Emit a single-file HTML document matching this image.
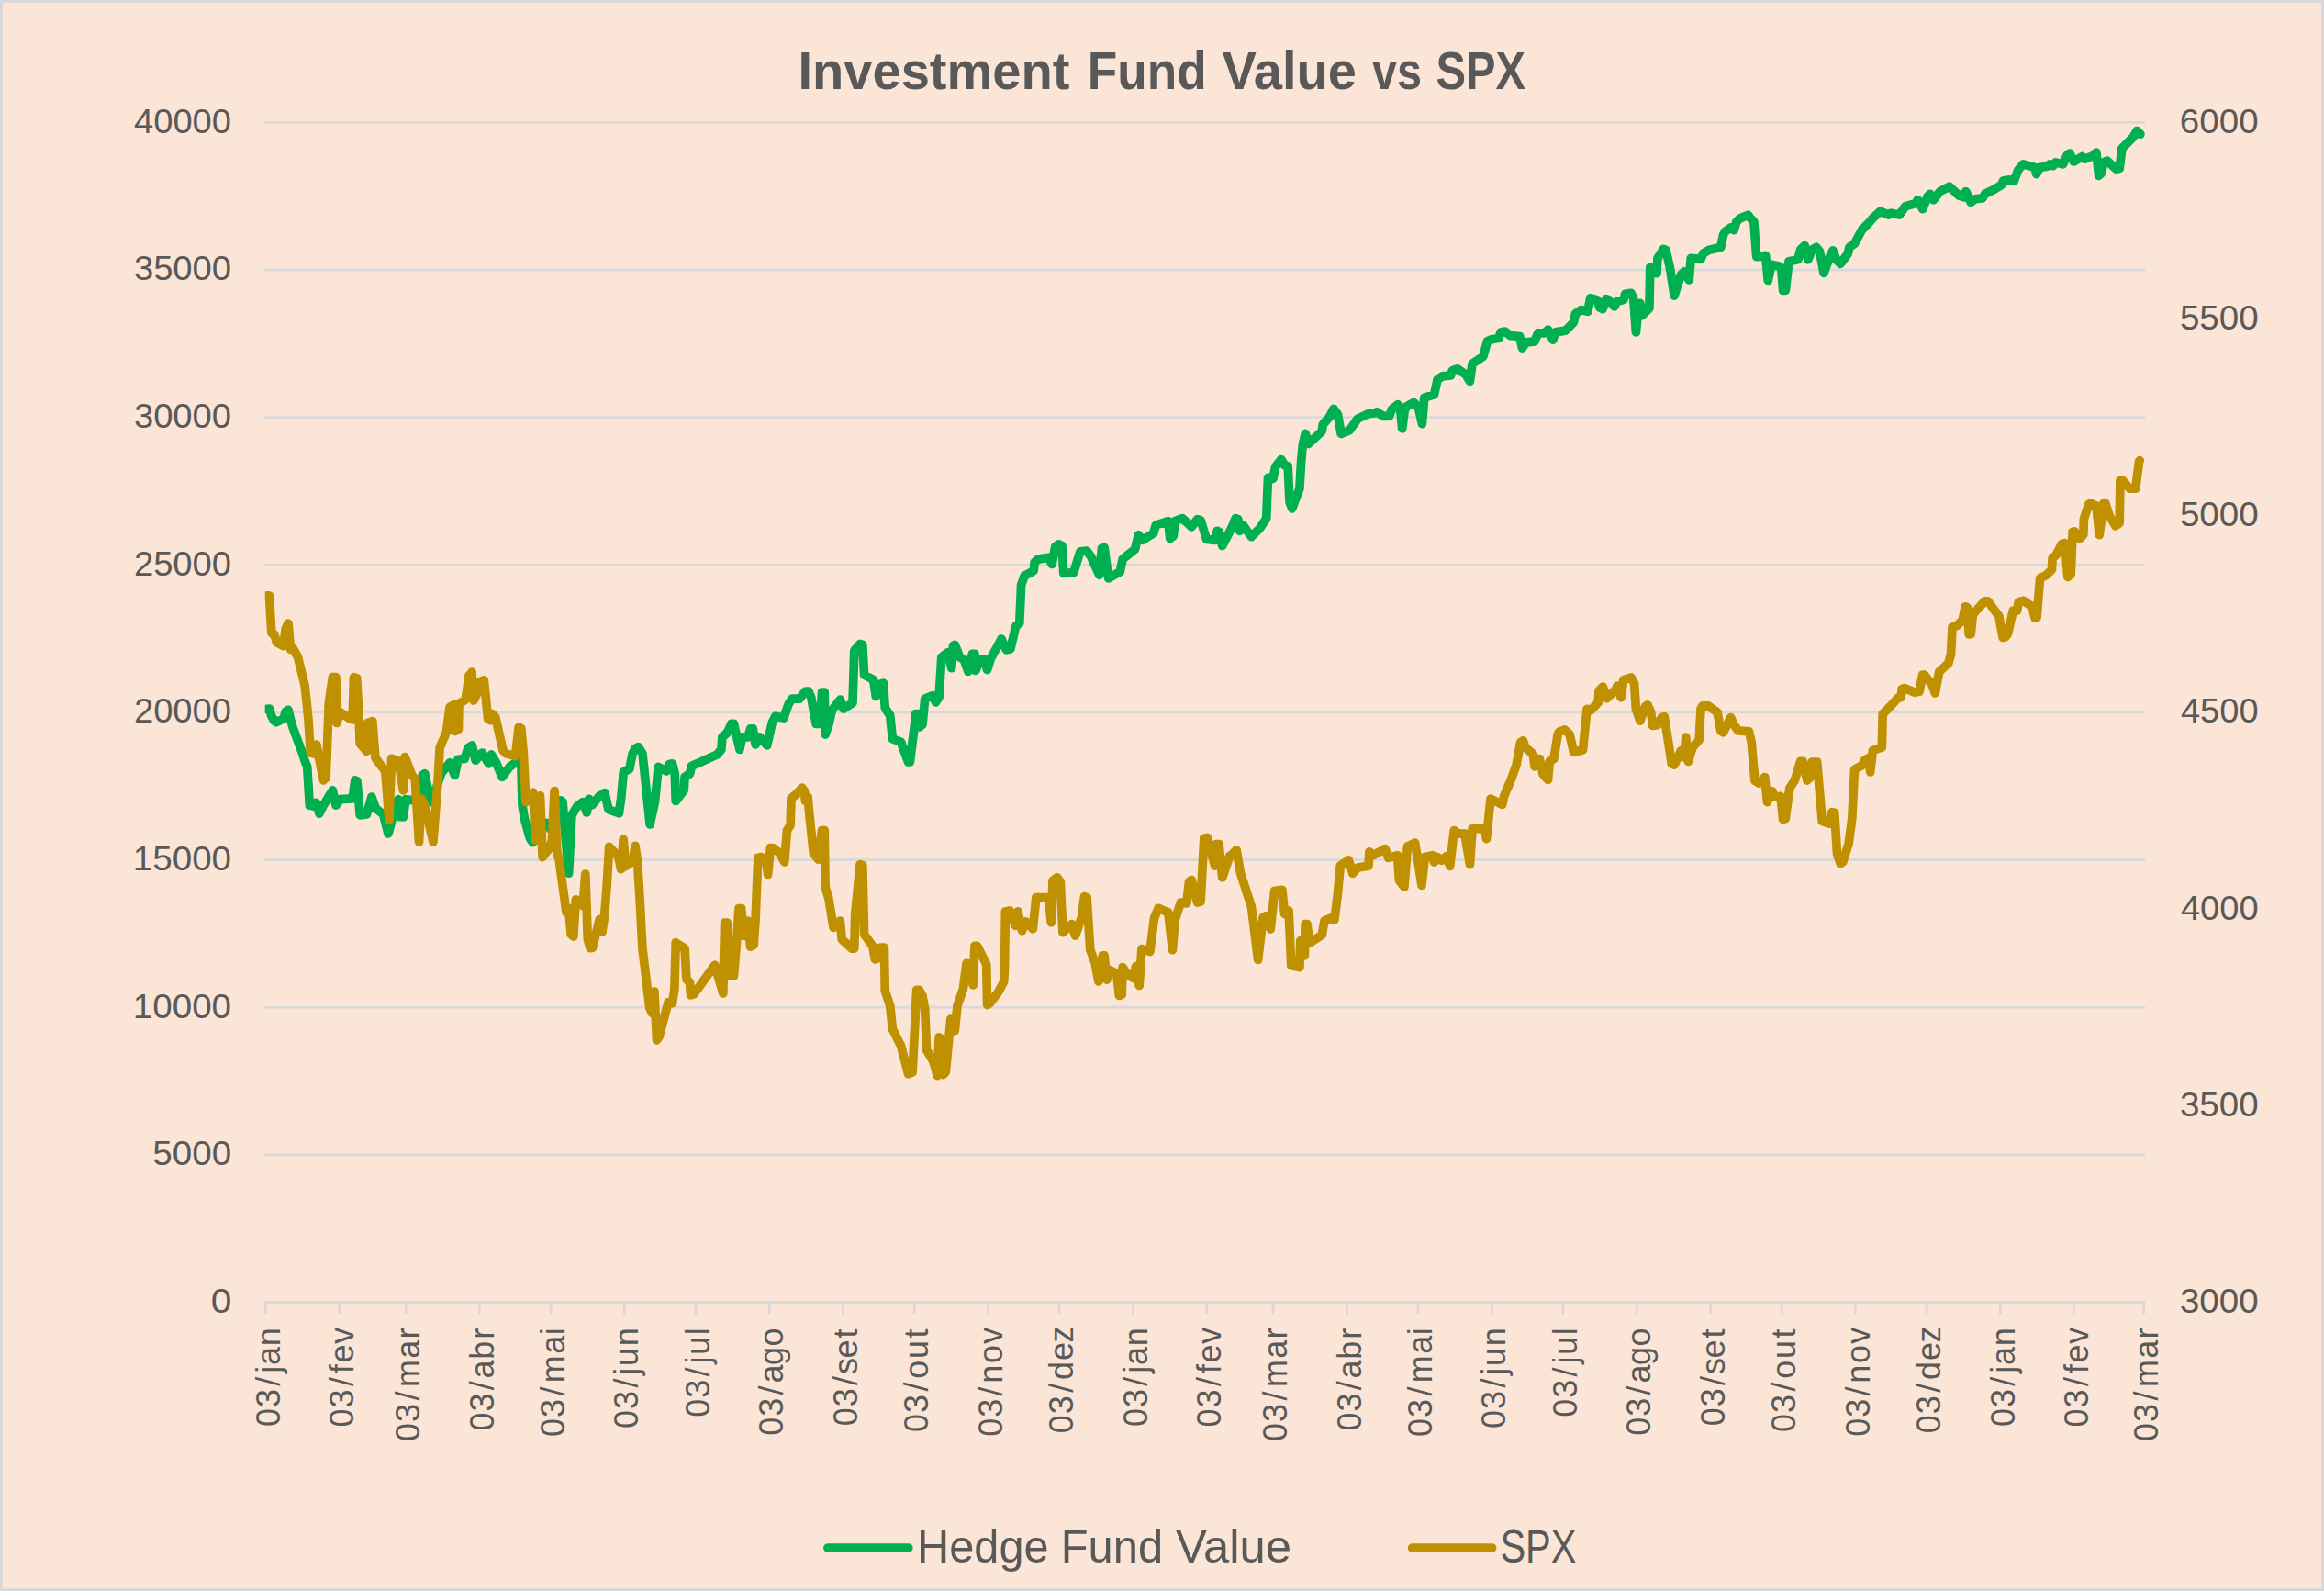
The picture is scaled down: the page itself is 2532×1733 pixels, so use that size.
<!DOCTYPE html>
<html lang="pt-BR"><head><meta charset="utf-8">
<title>Investment Fund Value vs SPX</title>
<style>
html,body{margin:0;padding:0;background:#FBE5D6;}
body{width:2532px;height:1733px;overflow:hidden;}
svg{display:block;}
text{font-family:"Liberation Sans", sans-serif;fill:#595959;}
.ax{font-size:36px;}
.ttl{font-size:57.6px;font-weight:bold;}
.lg{font-size:50.4px;}
</style></head><body>
<svg width="2532" height="1733" viewBox="0 0 2532 1733">
<rect x="0" y="0" width="2532" height="1733" fill="#D9D9D9"/>
<rect x="3" y="3" width="2526" height="1727" fill="#FBE5D6"/>
<g stroke="#D9D9D9" stroke-width="2.8" fill="none">
<line x1="288" y1="133.3" x2="2337" y2="133.3"/>
<line x1="288" y1="294.0" x2="2337" y2="294.0"/>
<line x1="288" y1="454.6" x2="2337" y2="454.6"/>
<line x1="288" y1="615.2" x2="2337" y2="615.2"/>
<line x1="288" y1="775.9" x2="2337" y2="775.9"/>
<line x1="288" y1="936.5" x2="2337" y2="936.5"/>
<line x1="288" y1="1097.2" x2="2337" y2="1097.2"/>
<line x1="288" y1="1257.8" x2="2337" y2="1257.8"/>
<line x1="288" y1="1418.5" x2="2337" y2="1418.5"/>
<line x1="289.4" y1="1418.5" x2="289.4" y2="1431.4"/>
<line x1="369.7" y1="1418.5" x2="369.7" y2="1431.4"/>
<line x1="442.2" y1="1418.5" x2="442.2" y2="1431.4"/>
<line x1="522.4" y1="1418.5" x2="522.4" y2="1431.4"/>
<line x1="600.1" y1="1418.5" x2="600.1" y2="1431.4"/>
<line x1="680.3" y1="1418.5" x2="680.3" y2="1431.4"/>
<line x1="758.0" y1="1418.5" x2="758.0" y2="1431.4"/>
<line x1="838.3" y1="1418.5" x2="838.3" y2="1431.4"/>
<line x1="918.5" y1="1418.5" x2="918.5" y2="1431.4"/>
<line x1="996.2" y1="1418.5" x2="996.2" y2="1431.4"/>
<line x1="1076.5" y1="1418.5" x2="1076.5" y2="1431.4"/>
<line x1="1154.1" y1="1418.5" x2="1154.1" y2="1431.4"/>
<line x1="1234.4" y1="1418.5" x2="1234.4" y2="1431.4"/>
<line x1="1314.6" y1="1418.5" x2="1314.6" y2="1431.4"/>
<line x1="1387.1" y1="1418.5" x2="1387.1" y2="1431.4"/>
<line x1="1467.4" y1="1418.5" x2="1467.4" y2="1431.4"/>
<line x1="1545.1" y1="1418.5" x2="1545.1" y2="1431.4"/>
<line x1="1625.3" y1="1418.5" x2="1625.3" y2="1431.4"/>
<line x1="1703.0" y1="1418.5" x2="1703.0" y2="1431.4"/>
<line x1="1783.3" y1="1418.5" x2="1783.3" y2="1431.4"/>
<line x1="1863.5" y1="1418.5" x2="1863.5" y2="1431.4"/>
<line x1="1941.2" y1="1418.5" x2="1941.2" y2="1431.4"/>
<line x1="2021.4" y1="1418.5" x2="2021.4" y2="1431.4"/>
<line x1="2099.1" y1="1418.5" x2="2099.1" y2="1431.4"/>
<line x1="2179.4" y1="1418.5" x2="2179.4" y2="1431.4"/>
<line x1="2259.6" y1="1418.5" x2="2259.6" y2="1431.4"/>
<line x1="2335.5" y1="1418.5" x2="2335.5" y2="1431.4"/>
</g>
<g opacity="0.999">
<text class="ttl" x="869.45" y="97.2" textLength="296.06" lengthAdjust="spacingAndGlyphs">Investment</text>
<text class="ttl" x="1184.84" y="97.2" textLength="129.83" lengthAdjust="spacingAndGlyphs">Fund</text>
<text class="ttl" x="1331.48" y="97.2" textLength="146.55" lengthAdjust="spacingAndGlyphs">Value</text>
<text class="ttl" x="1495.00" y="97.2" textLength="54.05" lengthAdjust="spacingAndGlyphs">vs</text>
<text class="ttl" x="1564.46" y="97.2" textLength="97.57" lengthAdjust="spacingAndGlyphs">SPX</text>
<text class="lg" x="999.07" y="1701.5" textLength="143.54" lengthAdjust="spacingAndGlyphs">Hedge</text>
<text class="lg" x="1155.77" y="1701.5" textLength="111.42" lengthAdjust="spacingAndGlyphs">Fund</text>
<text class="lg" x="1280.99" y="1701.5" textLength="126.06" lengthAdjust="spacingAndGlyphs">Value</text>
<text class="lg" x="1634.40" y="1701.5" textLength="83.16" lengthAdjust="spacingAndGlyphs">SPX</text>
<text class="ax" x="145.96" y="144.7" textLength="106.10" lengthAdjust="spacingAndGlyphs">40000</text>
<text class="ax" x="145.92" y="305.4" textLength="106.14" lengthAdjust="spacingAndGlyphs">35000</text>
<text class="ax" x="145.92" y="466.0" textLength="106.14" lengthAdjust="spacingAndGlyphs">30000</text>
<text class="ax" x="145.93" y="626.6" textLength="106.13" lengthAdjust="spacingAndGlyphs">25000</text>
<text class="ax" x="145.93" y="787.3" textLength="106.13" lengthAdjust="spacingAndGlyphs">20000</text>
<text class="ax" x="144.85" y="947.9" textLength="107.21" lengthAdjust="spacingAndGlyphs">15000</text>
<text class="ax" x="144.85" y="1108.6" textLength="107.21" lengthAdjust="spacingAndGlyphs">10000</text>
<text class="ax" x="166.39" y="1269.2" textLength="85.69" lengthAdjust="spacingAndGlyphs">5000</text>
<text class="ax" x="229.67" y="1429.9" textLength="22.62" lengthAdjust="spacingAndGlyphs">0</text>
<text class="ax" x="2374.86" y="144.7" textLength="85.74" lengthAdjust="spacingAndGlyphs">6000</text>
<text class="ax" x="2374.91" y="358.9" textLength="85.70" lengthAdjust="spacingAndGlyphs">5500</text>
<text class="ax" x="2374.91" y="573.1" textLength="85.70" lengthAdjust="spacingAndGlyphs">5000</text>
<text class="ax" x="2375.93" y="787.3" textLength="84.65" lengthAdjust="spacingAndGlyphs">4500</text>
<text class="ax" x="2375.93" y="1001.5" textLength="84.65" lengthAdjust="spacingAndGlyphs">4000</text>
<text class="ax" x="2374.91" y="1215.7" textLength="85.70" lengthAdjust="spacingAndGlyphs">3500</text>
<text class="ax" x="2374.91" y="1429.9" textLength="85.70" lengthAdjust="spacingAndGlyphs">3000</text>
<text class="ax" transform="translate(304.5 1554.5) rotate(-90)" x="0.4 21.4 44.8 58.7 67.5 88.2">03/jan</text>
<text class="ax" transform="translate(384.8 1554.9) rotate(-90)" x="0.4 21.4 44.8 59.0 70.5 91.1">03/fev</text>
<text class="ax" transform="translate(457.3 1570.3) rotate(-90)" x="0.4 21.4 44.8 59.2 90.6 111.7">03/mar</text>
<text class="ax" transform="translate(537.5 1559.0) rotate(-90)" x="0.4 21.4 44.8 57.6 78.3 100.3">03/abr</text>
<text class="ax" transform="translate(615.2 1565.4) rotate(-90)" x="0.4 21.4 44.8 59.2 90.6 111.2">03/mai</text>
<text class="ax" transform="translate(695.4 1556.4) rotate(-90)" x="0.4 21.4 44.8 58.7 68.4 90.1">03/jun</text>
<text class="ax" transform="translate(773.1 1544.2) rotate(-90)" x="0.4 21.4 44.8 58.7 68.4 90.0">03/jul</text>
<text class="ax" transform="translate(853.4 1564.2) rotate(-90)" x="0.4 21.4 44.8 57.6 77.2 97.8">03/ago</text>
<text class="ax" transform="translate(933.6 1553.7) rotate(-90)" x="0.4 21.4 44.8 56.8 74.1 96.2">03/set</text>
<text class="ax" transform="translate(1011.3 1560.4) rotate(-90)" x="0.4 21.4 44.8 58.6 80.3 103.0">03/out</text>
<text class="ax" transform="translate(1091.6 1565.2) rotate(-90)" x="0.4 21.4 44.8 58.5 80.2 101.4">03/nov</text>
<text class="ax" transform="translate(1169.2 1561.6) rotate(-90)" x="0.4 21.4 44.8 58.5 79.6 99.0">03/dez</text>
<text class="ax" transform="translate(1249.5 1554.5) rotate(-90)" x="0.4 21.4 44.8 58.7 67.5 88.2">03/jan</text>
<text class="ax" transform="translate(1329.7 1554.9) rotate(-90)" x="0.4 21.4 44.8 59.0 70.5 91.1">03/fev</text>
<text class="ax" transform="translate(1402.2 1570.3) rotate(-90)" x="0.4 21.4 44.8 59.2 90.6 111.7">03/mar</text>
<text class="ax" transform="translate(1482.5 1559.0) rotate(-90)" x="0.4 21.4 44.8 57.6 78.3 100.3">03/abr</text>
<text class="ax" transform="translate(1560.2 1565.4) rotate(-90)" x="0.4 21.4 44.8 59.2 90.6 111.2">03/mai</text>
<text class="ax" transform="translate(1640.4 1556.4) rotate(-90)" x="0.4 21.4 44.8 58.7 68.4 90.1">03/jun</text>
<text class="ax" transform="translate(1718.1 1544.2) rotate(-90)" x="0.4 21.4 44.8 58.7 68.4 90.0">03/jul</text>
<text class="ax" transform="translate(1798.4 1564.2) rotate(-90)" x="0.4 21.4 44.8 57.6 77.2 97.8">03/ago</text>
<text class="ax" transform="translate(1878.6 1553.7) rotate(-90)" x="0.4 21.4 44.8 56.8 74.1 96.2">03/set</text>
<text class="ax" transform="translate(1956.3 1560.4) rotate(-90)" x="0.4 21.4 44.8 58.6 80.3 103.0">03/out</text>
<text class="ax" transform="translate(2036.5 1565.2) rotate(-90)" x="0.4 21.4 44.8 58.5 80.2 101.4">03/nov</text>
<text class="ax" transform="translate(2114.2 1561.6) rotate(-90)" x="0.4 21.4 44.8 58.5 79.6 99.0">03/dez</text>
<text class="ax" transform="translate(2194.5 1554.5) rotate(-90)" x="0.4 21.4 44.8 58.7 67.5 88.2">03/jan</text>
<text class="ax" transform="translate(2274.7 1554.9) rotate(-90)" x="0.4 21.4 44.8 59.0 70.5 91.1">03/fev</text>
<text class="ax" transform="translate(2350.6 1570.3) rotate(-90)" x="0.4 21.4 44.8 59.2 90.6 111.7">03/mar</text>
</g>
<g fill="none" stroke-linecap="round" stroke-linejoin="round" stroke-width="9.7">
<clipPath id="plot"><rect x="288.7" y="100" width="2060" height="1340"/></clipPath>
<g clip-path="url(#plot)">
<path stroke="#00B050" d="M290.7 772.4 L293.5 772.2 L295.9 780 L298.5 784.9 L301.1 786.6 L308.8 782.9 L311.4 775 L314 773.3 L316.6 784 L319.2 792.9 L329.6 820.9 L332.1 828.9 L334.7 835.1 L337.3 877.1 L341.6 878 L344.3 874.4 L347.9 886.1 L352.4 877.1 L362.4 860.8 L366 877.1 L370.5 870.7 L384.1 869.8 L386.8 849.9 L389 850.8 L392.2 887.9 L399.5 887 L404.9 868 L409.4 880.7 L417.6 887 L423 908 L428.4 887.9 L433.9 870.7 L436.6 889.7 L439.3 889.7 L442 870.7 L449.3 871.6 L458.3 866.2 L460.1 844.5 L462.8 842.7 L469.2 873.4 L474.6 860.8 L480.9 841.8 L490 830.9 L495.4 844.5 L499.1 827.3 L506.3 826.4 L509.9 814.6 L514.4 811.9 L518.1 828.2 L525.3 820 L532.5 831.8 L535.3 821.9 L540.7 830.9 L547 846.3 L555.2 835.4 L565.1 828.2 L567.8 828.2 L569 876.8 L571.4 891.5 L577.2 912.8 L580.4 917.7 L595.1 896.4 L600.9 904.6 L610.7 871.9 L613.1 873.5 L615.6 906.2 L619.6 951.2 L622.9 888.2 L628.6 878.4 L635.2 873.5 L639.3 885 L641.7 870.3 L645 876.8 L653.1 867 L658.9 863.7 L663 881.7 L674.4 885.8 L676.8 868.6 L679.3 840.9 L685.8 837.6 L689.1 821.2 L691.8 815.5 L695.4 813.7 L700 820.9 L708.1 897.9 L713.5 873.4 L717.2 835.4 L726.2 840 L728.9 832.7 L732.5 831.8 L735.3 842.7 L736.2 872.5 L745.2 860.8 L746.1 846.3 L751.6 842.7 L753.4 834.5 L781.4 821.9 L785.9 816.4 L786.9 802.8 L792.3 798.3 L796.8 788.4 L799.5 788.4 L805.9 816.4 L808.6 802.8 L814.9 802.8 L817.6 793.8 L820.3 793.8 L823.1 811 L827.6 802.8 L835.7 811.9 L841.2 787.5 L844.8 780.2 L853.8 782 L859.3 766.6 L862.9 761.2 L871 761.2 L877.4 753.1 L881 753.1 L883.7 759.4 L889.1 788.4 L893.7 788.4 L895.5 754 L898.2 754 L899.1 800.1 L902.7 790.2 L906.3 773.9 L915.4 762.1 L919 772.1 L929 765.7 L930.8 708.7 L937.1 701.5 L939.8 702.4 L941.6 735 L951.6 740.4 L954.3 758.5 L959.7 744.9 L962.5 744 L964.3 771.2 L969.7 779.3 L972.4 804.7 L981.5 808.3 L989.6 830 L991.4 830 L995.9 793.8 L997.8 777.5 L1000.5 777.5 L1001.4 792 L1005 789.3 L1007.7 761.2 L1015.9 757.6 L1019.5 764.8 L1023.1 759.4 L1025.8 715.9 L1033.1 710.5 L1036.7 727.7 L1038.5 703.3 L1040.3 702.4 L1045.7 715.9 L1050.3 718.7 L1054.8 731.3 L1059.3 712.3 L1062 712.3 L1062.9 730.4 L1067.5 718.7 L1072 717.8 L1075.6 729.5 L1079.2 717.8 L1091 696 L1096.4 707.8 L1100.9 706.9 L1106.4 683.4 L1107.2 681.5 L1110.8 678.8 L1112.6 637.2 L1116.2 627.2 L1126.2 621.8 L1127.1 612.7 L1130.7 609.1 L1142.5 607.3 L1146.1 614.5 L1149.7 595.5 L1153.4 592.8 L1157 594.6 L1158.8 624.5 L1169.7 623.6 L1176.9 600.9 L1184.1 600 L1188.7 606.4 L1197.7 626.3 L1200.4 597.3 L1203.1 596.4 L1207.7 629.9 L1220.3 622.7 L1223.1 609.1 L1236.6 598.2 L1240.3 582.8 L1244.8 588.3 L1256.6 581 L1259.3 572 L1272.8 567.5 L1274.7 586.5 L1278.3 583.8 L1280.1 567.5 L1288.2 564.7 L1298.2 573.8 L1304.5 565.6 L1308.1 566.6 L1314.5 587.4 L1323.5 588.3 L1326.2 578.3 L1328.1 579.2 L1331.7 594.6 L1341.6 575.6 L1346.2 564.7 L1348.9 565.6 L1350.7 578.3 L1354.3 572 L1363.4 584.7 L1372.4 575.6 L1379.7 564.7 L1381.5 520.4 L1386.9 521.3 L1389.6 508.6 L1395.9 500.5 L1399.6 506.8 L1403.2 507.7 L1405 546.6 L1407.7 553.9 L1415.9 532.2 L1417.7 501.4 L1419.5 483.3 L1422.2 472.4 L1425.8 483.3 L1440.3 469.7 L1441.2 462.5 L1448.4 454.3 L1453 445.3 L1457.5 451.6 L1461.1 472.4 L1470.2 468.8 L1479.2 456.1 L1491 450.7 L1499.1 449.8 L1500 448.8 L1507.2 453.4 L1513.6 453.4 L1516.3 446.1 L1522.8 440.7 L1525.3 443 L1527.7 466.8 L1530.2 447 L1532.9 442.5 L1540.4 438.5 L1545.4 443.9 L1549.4 461.7 L1551.8 433.1 L1562.5 429.8 L1566.1 413.5 L1571.5 409.9 L1580.6 409 L1582.4 403.6 L1587.8 401.8 L1596.9 408.1 L1601.4 415.3 L1604.1 396.3 L1615.9 388.2 L1620.4 371.9 L1624 370.1 L1633.1 368.3 L1634.9 361.9 L1639.4 361 L1645.7 365.6 L1655.7 366.5 L1658.4 379.1 L1662.9 372.8 L1672 371.9 L1675.6 362.8 L1682.8 362.8 L1686.5 359.2 L1691.9 370.1 L1694.6 361.9 L1705.5 360.1 L1714.5 351.1 L1716.3 342 L1722.7 337.5 L1729.9 339.3 L1732.6 324.8 L1739.9 326.6 L1742.6 334.8 L1746.2 336.6 L1749.8 325.7 L1752.5 326.6 L1758.9 333.9 L1761.6 328.4 L1768.8 326.6 L1770.6 320.3 L1777 319.4 L1779.7 324.8 L1782.4 361.9 L1785.1 333.9 L1786.9 330.3 L1788.8 343.8 L1796.9 335.7 L1797.8 291.3 L1803.2 292.2 L1805 297.7 L1805.9 281.4 L1812.3 271.4 L1815 272.3 L1819.5 292.2 L1824.1 322.1 L1831.3 299.5 L1834.9 295.9 L1840.3 304.9 L1842.2 281.4 L1853 282.3 L1855.7 275.9 L1862.1 272.3 L1874.7 269.6 L1877.5 256 L1879.3 252.4 L1885.6 247.9 L1889.2 250.6 L1891.9 241.6 L1895.6 237.9 L1904.6 234.3 L1907.3 237.9 L1910.9 241.6 L1913.7 279.6 L1920 279.2 L1923.6 278.3 L1926.3 305.5 L1930 288.3 L1938.1 290.1 L1940.8 291.9 L1942.6 316.3 L1945.3 316.3 L1949 284.7 L1958.9 282.8 L1961.6 272 L1966.2 267.5 L1969.8 282.8 L1974.3 272 L1978.8 269.3 L1982.5 273.8 L1987 297.3 L1994.2 278.3 L1996.9 272.9 L2000.6 282.8 L2005.1 287.4 L2013.2 276.5 L2015 269.3 L2020.5 265.6 L2028.6 250.3 L2035.9 243 L2040.4 237.6 L2048.5 230.3 L2057.6 234 L2060.3 232.2 L2069.4 234 L2075.7 224.9 L2087.5 221.3 L2089.3 217.7 L2094.7 227.6 L2100.1 214.1 L2102.8 211.3 L2106.5 217.7 L2113.7 208.6 L2123.7 203.2 L2134.5 213.1 L2140 215 L2141.8 208.6 L2147.2 220.4 L2151.7 216.8 L2159.9 215.9 L2162.6 211.3 L2173.4 205.9 L2180.7 201.4 L2182.5 196.9 L2187.9 195.9 L2194.3 196.9 L2198.8 185.1 L2204.2 178.8 L2216.9 182.4 L2218.7 189.6 L2222.3 182.4 L2229.6 181.5 L2233.2 178.8 L2236.8 180.6 L2239.5 176.9 L2247.7 178.8 L2252.2 168.8 L2254.9 167 L2259.4 176 L2268.5 170.6 L2271.2 173.3 L2280.3 169.7 L2283.9 166.1 L2286.6 191.4 L2289.3 188.7 L2292 176.9 L2295.6 175.1 L2305.6 184.2 L2309.2 183.3 L2311.9 161.6 L2317.4 156.1 L2323.7 149.8 L2328.2 142.5 L2331.9 146.2"/>
<path stroke="#BF9000" d="M290.7 648.8 L293.4 649.1 L295.9 689.7 L298.8 691 L301.4 699.7 L308.6 703.6 L311.4 684.3 L314 679 L316.6 707.4 L319.3 706.2 L324.5 715.9 L328.5 732.2 L332.1 746.7 L333.9 763 L335.9 782.9 L338.3 820 L342.5 820.9 L344.8 811 L349.7 836.3 L352.4 849.9 L355.1 847.2 L356.9 802.8 L358.2 766.6 L362.4 737.7 L366 737.7 L366.9 787.5 L370.5 775.7 L381.4 782.9 L384.1 783.8 L385.5 737.7 L388.6 738.6 L390.8 775.7 L392.2 810.1 L399.5 818.2 L400.4 787.5 L405.8 785.6 L408.9 825.5 L419.8 840 L423.9 893.4 L426.6 826.4 L434.2 829.1 L439.3 860.8 L441.1 824.6 L448.4 843.6 L452.3 849 L456.5 917 L459.2 870 L463.2 878.1 L471.9 917 L476.4 860 L477.3 846.3 L479.1 814.6 L486.4 797.4 L490 770.3 L494.5 767.5 L495.4 796.5 L499.4 794.7 L500 766.6 L507.2 762.1 L511 735.9 L514.1 732.1 L516.1 763 L519 756.9 L523.5 742.2 L527.3 740.8 L531.6 782.9 L534.4 784.7 L536.2 777.5 L539.8 781.1 L547.9 817.3 L551.6 820.9 L561.5 823.7 L565.2 792.1 L567.8 793.3 L570.4 821.5 L573 873.7 L580.8 863.2 L583.4 915 L586 911.3 L588.5 866.9 L591.1 933.6 L598.9 923.5 L601.5 914.9 L604.1 861.5 L606.7 927.2 L609.3 937.3 L617 993.9 L619.6 989.7 L622.2 1017.9 L624.8 1020.1 L627.4 979.9 L635.2 986.7 L637.8 952 L640.3 1022.8 L642.9 1032.6 L645.5 1032.4 L653.3 1001.3 L655.9 1015.2 L658.5 999.2 L661.1 965.3 L663.7 922.3 L674 933.5 L676.6 946.7 L679.2 914.4 L681.8 943.6 L689.6 938.1 L692.1 921.3 L694.7 940.5 L697.3 982.5 L699.9 1032.6 L707.7 1097.4 L710.3 1103.4 L712.9 1080.1 L715.5 1132.9 L718 1129.4 L728 1091.9 L732.5 1092.8 L734.9 1077.4 L736.2 1026.7 L746.1 1033.1 L747.9 1066.6 L751.6 1070.2 L752.5 1083.8 L756.1 1082.8 L778.7 1051.2 L787.8 1081.9 L789.6 1005 L792.3 1005 L795 1062.9 L799.5 1062.9 L803.1 1019.5 L805 989.6 L807.7 989.6 L810.4 1019.5 L814.9 1003.2 L817.6 1031.2 L821.2 1029.4 L823.1 1001.4 L825.8 934.4 L829.4 933.5 L834.8 938 L836.6 952.5 L839.4 923.5 L842.1 923.5 L849.3 929 L854.7 938.9 L857.5 904.5 L861.1 898.8 L862 869.8 L868.3 864.4 L873.8 858.1 L876.5 861.7 L877.4 872.5 L880.1 868 L881.9 887.9 L886.4 929.9 L891.9 936.2 L895.5 904.5 L898.2 904.5 L899.1 966.1 L902.7 977.8 L908.1 1010.4 L915.4 1003.2 L917.2 1023.1 L928.1 1033.1 L930.8 1033.1 L931.7 995.9 L937.1 941.6 L939.8 942.5 L941.6 1017.7 L950.7 1030.3 L953.4 1044.8 L956.1 1043.9 L959.7 1032.2 L963.4 1032.2 L964.3 1079.2 L969.7 1095.5 L972.4 1120.9 L981.5 1139 L989.6 1169.7 L994.1 1167.9 L998.7 1078.3 L1001.4 1078.3 L1005 1084.7 L1007.7 1099.1 L1009.5 1143.5 L1016.8 1156.2 L1021.3 1171.6 L1023.1 1129.9 L1025.8 1131.7 L1027.6 1170.6 L1030.3 1167.9 L1035.8 1110 L1040.3 1122.7 L1043 1095.5 L1049.4 1077.4 L1053 1049.4 L1056.6 1050.3 L1060.2 1072.9 L1062 1030.3 L1064.7 1030.3 L1074.7 1050.3 L1075.6 1094.6 L1078.3 1092.8 L1087.4 1081 L1093.7 1069.3 L1094.5 1054.5 L1095.4 992.9 L1100 992 L1106.3 1008.3 L1109 992.9 L1113.5 1013.8 L1117.2 1003.8 L1125.3 1011.9 L1128.9 977.5 L1142.5 977.5 L1145.2 1004.7 L1147 959.4 L1151.6 955.8 L1155.2 960.3 L1157.9 1015.6 L1167.8 1006.5 L1171.5 1019.2 L1178.7 998.4 L1181.4 976.6 L1184.1 977.5 L1187.8 1034.6 L1193.2 1049.1 L1196.8 1069 L1201.3 1040.9 L1203.1 1040.9 L1205.9 1067.2 L1208.6 1056.3 L1216.7 1060.8 L1219.4 1084.4 L1222.2 1083.4 L1223.1 1053.6 L1228.5 1061.7 L1234.8 1065.3 L1237.5 1052.7 L1241.2 1073.5 L1243.9 1033.7 L1252.9 1036.4 L1257.5 1000.2 L1262 989.3 L1272.8 993.8 L1277.4 1034.6 L1280.1 1002 L1286.4 983 L1292.8 983.9 L1295.5 960.3 L1298.2 958.5 L1304.5 983 L1308.1 982.1 L1311.8 913.3 L1315.4 912.4 L1323.5 943.1 L1325.3 919.6 L1328.1 919.6 L1331.7 955.8 L1339.8 932.3 L1342.5 930.5 L1347.1 925.9 L1351.6 951.3 L1363.4 987.5 L1370.6 1045.4 L1376 999.3 L1379.7 997.5 L1384.2 1011.9 L1388.7 970.3 L1396.9 969.4 L1399.6 995.6 L1404.1 992 L1406.8 1051.8 L1415.9 1053.6 L1416.8 1024.6 L1419.5 1022.8 L1421.3 1040.9 L1422.2 1006.5 L1424 1006.5 L1426.7 1027.3 L1440.3 1018.3 L1443 1002.9 L1449.4 1000.2 L1453.9 1002 L1457.5 973 L1460.2 943.1 L1469.3 936.8 L1473.8 951.3 L1479.2 945 L1491 943.1 L1491.9 927.8 L1496.4 931.4 L1506.4 925.9 L1509.1 924.5 L1512.7 934.4 L1522.6 931.7 L1524.4 958.9 L1529.9 966.1 L1533.5 921.8 L1541.6 918.1 L1545.3 940.8 L1548.9 964.3 L1552.5 933.5 L1560.6 931.7 L1562.5 939 L1566.1 933.5 L1570.6 937.2 L1576 932.6 L1579.7 943.5 L1584.2 904.6 L1589.6 908.2 L1595.9 908.2 L1601.4 941.7 L1604.1 902.8 L1617.7 901.9 L1619.5 913.6 L1624 870.2 L1636.7 876.5 L1638.5 867.5 L1646.6 848.4 L1652.1 833.1 L1656.6 808.6 L1659.3 806.8 L1662 814.1 L1670.2 821.3 L1672 834.9 L1674.7 826.7 L1677.4 826.7 L1681 843 L1686.5 849.4 L1688.3 829.4 L1692.8 826.7 L1697.3 799.6 L1699.1 796.9 L1704.6 795 L1710 799.6 L1714.5 819.5 L1724.5 816.8 L1729 772.4 L1733.5 773.3 L1741.3 765.2 L1742 752.5 L1746.2 748 L1750.7 760.6 L1760.7 750.7 L1762 747.1 L1766.1 759.7 L1768.8 740.7 L1777 738 L1780.6 744.4 L1782.4 772.4 L1786.9 785.1 L1792.4 769.7 L1795.1 767.9 L1798.7 776 L1800.5 790.5 L1805.9 789.6 L1810.5 781.5 L1813.2 780.6 L1817.7 808.6 L1821.3 832.2 L1824.1 833.1 L1831.3 817.7 L1834.9 824.9 L1836.7 803.2 L1839.4 829.4 L1844 814.1 L1851.2 805.9 L1853 772.4 L1854.8 768.8 L1861.2 768.8 L1871.1 776 L1874.7 795.9 L1877.5 797.8 L1885.6 781.5 L1889.2 789.6 L1893.8 795.9 L1905.5 796.9 L1908.2 808.6 L1911.9 850.3 L1916.4 853 L1920 850.1 L1922.7 846.5 L1925.4 873.6 L1930.9 861.9 L1933.6 868.2 L1939.9 867.3 L1942.6 892.6 L1945.3 891.7 L1947.2 877.2 L1949.9 858.2 L1955.3 850.1 L1961.6 829.3 L1964.4 829.3 L1968.9 850.1 L1971.6 847.4 L1974.3 830.2 L1979.7 830.2 L1985.2 894.4 L1993.3 897.2 L1996 884.5 L1998.8 885.4 L2001.5 929.7 L2005.1 940.6 L2007.8 938.8 L2014.1 918.9 L2017.8 891.7 L2020.5 838.3 L2028.6 833.8 L2031.3 828.4 L2035.9 825.6 L2037.7 841 L2040.4 817.5 L2050.3 813.9 L2051.2 777.7 L2059.4 769.5 L2067.5 760.5 L2071.2 759.6 L2072.1 750.5 L2074.8 749.6 L2085.6 754.1 L2091.1 753.2 L2094.7 735.1 L2096.5 735.1 L2104.7 745.1 L2108.3 755 L2112.8 731.5 L2122.8 722.5 L2125.5 712.5 L2125.5 713.3 L2127 683.2 L2132.2 681.5 L2138.2 675.4 L2141.2 660.8 L2143.4 661.7 L2145.1 690.9 L2147.3 690.5 L2149.4 669.4 L2162.3 654.8 L2165.8 654.8 L2177.8 671.1 L2182.1 694.4 L2184.7 693.9 L2187.3 690.9 L2193.3 665.1 L2197.6 665.1 L2199.3 655.6 L2204.5 654.3 L2214 660.8 L2217 672.8 L2219.1 672.4 L2222.6 629.8 L2229.5 626.4 L2235.5 620.3 L2235.5 618.9 L2236.1 607.9 L2240 604.7 L2246.4 592.4 L2249.7 591.7 L2252.9 628.6 L2256.2 625.4 L2258.1 579.4 L2260 578.8 L2265.9 586.5 L2269.8 582.6 L2270.4 565.2 L2275.6 549.6 L2277.5 548.3 L2284 550.9 L2287.2 582.6 L2291.8 548.3 L2293.7 547.7 L2298.2 561.9 L2304.7 572.9 L2309.2 569.7 L2309.9 523.7 L2312.5 523.1 L2320.3 532.1 L2326.7 532.1 L2330.6 502.4 L2331.3 501.7"/>
</g>
<line x1="901.9" y1="1686.1" x2="989.8" y2="1686.1" stroke="#00B050"/>
<line x1="1538.6" y1="1686.1" x2="1625.6" y2="1686.1" stroke="#BF9000"/>
</g>
</svg>
</body></html>
